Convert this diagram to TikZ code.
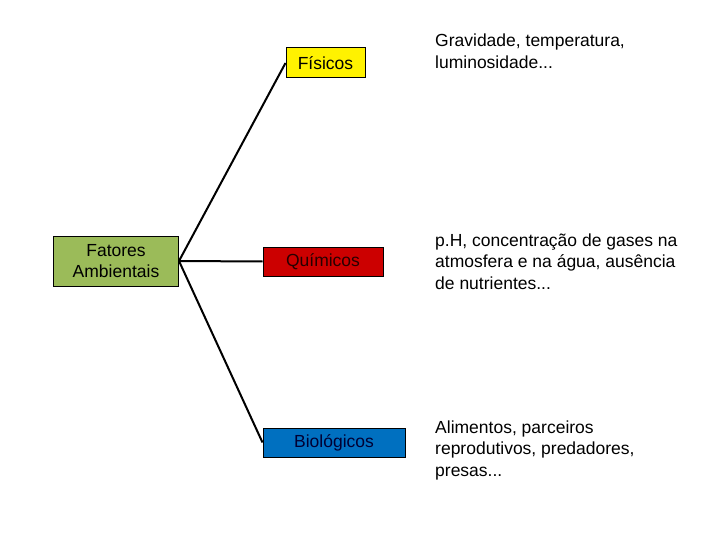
\documentclass[tikz,border=0pt]{standalone}
\usepackage{fontspec}
\setmainfont{Liberation Sans}
\begin{document}
\begin{tikzpicture}[x=1pt,y=-1pt,
  box/.style={draw=black, line width=1pt, inner sep=0pt, font=\fontsize{17.5}{21.5}\selectfont, align=center},
  desc/.style={anchor=west, inner sep=0pt, align=left, font=\fontsize{17.5}{21.5}\selectfont},
  conn/.style={line width=2pt}]
\useasboundingbox (0,0) rectangle (720,540);
\definecolor{olive}{RGB}{155,187,89}
\definecolor{qred}{RGB}{204,0,0}
\definecolor{bblue}{RGB}{0,112,192}
\definecolor{dtext}{RGB}{40,0,0}
\node[box, fill=olive, minimum width=125pt, minimum height=50pt] (fa) at (116,261) {Fatores\\Ambientais};
\node[box, fill=yellow, minimum width=79pt, minimum height=30pt] (fi) at (325.5,63) {Físicos};
\node[box, fill=qred, minimum width=120pt, minimum height=29pt, text=dtext] (qu) at (323,261.5) {Químicos};
\node[box, fill=bblue, minimum width=142pt, minimum height=29pt, text=black!80!blue] (bi) at (334,442.5) {Biológicos};
\draw[conn] (fa.east) -- (fi.west);
\draw[conn] (fa.east) -- (qu.west);
\draw[conn] (fa.east) -- (bi.west);
\node[desc] (d1) at (435,51) {Gravidade, temperatura,\\luminosidade...};
\node[desc] (d2) at (435,261.5) {p.H, concentração de gases na\\atmosfera e na água, ausência\\de nutrientes...};
\node[desc] (d3) at (435,450) {Alimentos, parceiros\\reprodutivos, predadores,\\presas...};
\end{tikzpicture}
\end{document}
